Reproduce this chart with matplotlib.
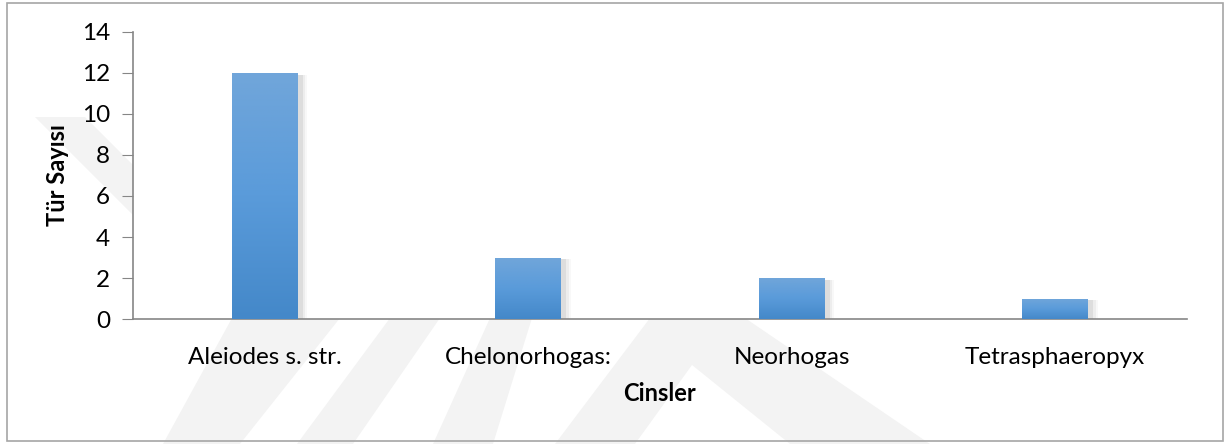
import matplotlib.pyplot as plt
from matplotlib.patches import Rectangle, Polygon
from matplotlib.colors import LinearSegmentedColormap
import numpy as np

# data
cinsler = ["Aleiodes s. str.", "Chelonorhogas:", "Neorhogas", "Tetrasphaeropyx"]
tur_sayisi = [12, 3, 2, 1]

plt.rcParams['font.family'] = ['Lato', 'DejaVu Sans']

W, H = 1230, 444
fig = plt.figure(figsize=(W / 100, H / 100), dpi=100)
ax = fig.add_axes([0.1081, 0.2815, 0.8569, 0.6465])
ax.set_facecolor('white')

def px(pts):
    # pixel coords (y down) -> figure fraction
    return [(x / W, 1 - y / H) for x, y in pts]

# faint background watermark (only shows outside the plot area)
wm = [
    [(35, 117), (85, 117), (200, 232), (150, 232)],
    [(163, 444), (240, 444), (340, 318), (232, 318)],
    [(297, 444), (353, 444), (440, 318), (390, 318)],
    [(433, 444), (493, 444), (532, 318), (490, 318)],
    [(555, 444), (650, 318), (745, 318), (930, 444)],
]
for p in wm:
    fig.patches.append(Polygon(px(p), closed=True, transform=fig.transFigure,
                               facecolor='#f3f3f3', edgecolor='none', zorder=-2))
fig.patches.append(Polygon(px([(635, 444), (692, 365), (790, 444)]), closed=True,
                           transform=fig.transFigure, facecolor='white',
                           edgecolor='none', zorder=-1))

# outer chart border
fig.patches.append(Rectangle((0.006, 0.007), 0.988, 0.986, transform=fig.transFigure,
                             fill=False, edgecolor='#a6a6a6', linewidth=1.2, zorder=-1))

x = np.arange(len(cinsler))
w = 0.25

# soft shadow behind the bars
for off, a in [(0.010, 0.10), (0.018, 0.07), (0.026, 0.04)]:
    ax.bar(x + off, tur_sayisi, width=w + 0.02, bottom=-0.08, color='#606060', alpha=a,
           linewidth=0, zorder=1)

bars = ax.bar(x, tur_sayisi, width=w, color='#5b9bd5', linewidth=0, zorder=2)

# vertical gradient fill like the excel bar style
grad = np.linspace(0, 1, 256).reshape(-1, 1)
cmap = LinearSegmentedColormap.from_list('barblue', ['#4488c9', '#5a9bda', '#71a6da'])
for b in bars:
    x0, y0 = b.get_x(), b.get_y()
    im = ax.imshow(grad, extent=[x0, x0 + b.get_width(), y0, y0 + b.get_height()],
                   origin='lower', cmap=cmap, aspect='auto', zorder=3)
    im.set_clip_path(b)

ax.set_xlim(-0.5, len(cinsler) - 0.5)
ax.set_ylim(0, 14)
ax.set_yticks(range(0, 15, 2))
ax.set_xticks(x)
ax.set_xticklabels(cinsler, fontsize=17.5)
ax.tick_params(axis='y', labelsize=17.5, length=8, color='#868686', pad=8.5)
ax.tick_params(axis='x', length=0, pad=20.5)

for s in ['top', 'right']:
    ax.spines[s].set_visible(False)
for s in ['left', 'bottom']:
    ax.spines[s].set_color('#868686')
    ax.spines[s].set_linewidth(1.2)

ax.set_ylabel("Tür Sayısı", fontsize=17, fontweight='bold', labelpad=9)
ax.set_xlabel("Cinsler", fontsize=17, fontweight='bold', labelpad=9.5)

fig.savefig('out.png', dpi=100)
